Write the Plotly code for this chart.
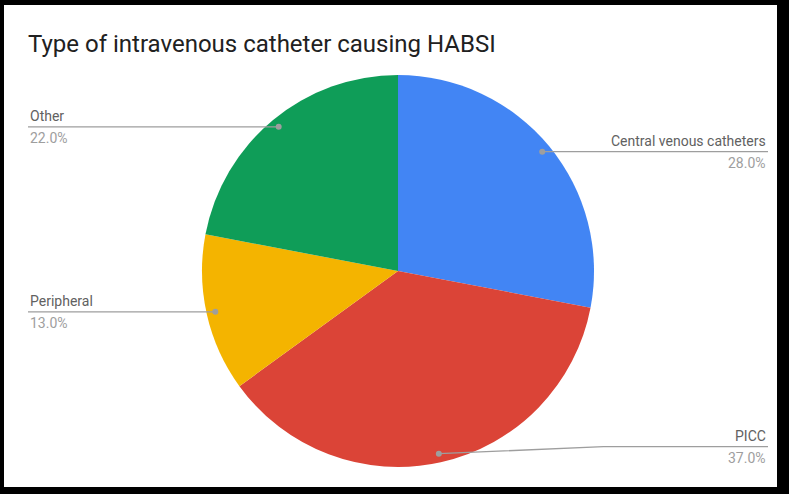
import math
import plotly.graph_objects as go

categories = ["Central venous catheters", "PICC", "Peripheral", "Other"]
values = [28.0, 37.0, 13.0, 22.0]
colors = ["#4285F4", "#DB4437", "#F4B400", "#0F9D58"]
title_text = "Type of intravenous catheter causing HABSI"

W, H = 789, 494
cx, cy, R = 398, 271, 196          # pie centre / radius in pixels
left_x, right_x = 28, 768           # label column edges
label_y_offsets = [0, -7, 0, 0]     # vertical shift of label line from dot

def px(x):
    return x / W

def py(y):
    return 1 - y / H

fig = go.Figure()
fig.add_trace(go.Pie(
    labels=categories, values=values, sort=False, direction="clockwise",
    rotation=0, marker=dict(colors=colors, line=dict(width=0)),
    textinfo="none", hoverinfo="label+percent", showlegend=False,
    domain=dict(x=[px(cx - R), px(cx + R)], y=[py(cy + R), py(cy - R)]),
))

shapes = [dict(type="rect", xref="paper", yref="paper", x0=px(4), x1=px(777),
               y0=py(487), y1=py(5), fillcolor="white", line=dict(width=0),
               layer="below")]
annotations = []
total = sum(values)
cum = 0.0
for name, v, off in zip(categories, values, label_y_offsets):
    mid = (cum + v / 2) / total * 2 * math.pi
    cum += v
    dx, dy = math.sin(mid), -math.cos(mid)
    dot_x, dot_y = cx + 0.955 * R * dx, cy + 0.955 * R * dy
    ly = dot_y + off
    right = dx > 0
    end_x = right_x if right else left_x
    if off != 0:
        kink_x = dot_x + (end_x - dot_x) * 0.5
        path = f"M {px(dot_x)} {py(dot_y)} L {px(kink_x)} {py(ly)} L {px(end_x)} {py(ly)}"
    else:
        path = f"M {px(dot_x)} {py(dot_y)} L {px(end_x)} {py(ly)}"
    shapes.append(dict(type="path", xref="paper", yref="paper", path=path,
                       line=dict(color="#9E9E9E", width=1.3)))
    r = 3
    shapes.append(dict(type="circle", xref="paper", yref="paper",
                       x0=px(dot_x - r), x1=px(dot_x + r),
                       y0=py(dot_y + r), y1=py(dot_y - r),
                       fillcolor="#9E9E9E", line=dict(width=0)))
    anchor = "right" if right else "left"
    annotations.append(dict(xref="paper", yref="paper", x=px(end_x), y=py(ly - 1),
                            xanchor=anchor, yanchor="bottom", showarrow=False,
                            text=name, font=dict(family="Roboto", size=14, color="#616161")))
    annotations.append(dict(xref="paper", yref="paper", x=px(end_x), y=py(ly + 1),
                            xanchor=anchor, yanchor="top", showarrow=False,
                            text=f"{v / total * 100:.1f}%",
                            font=dict(family="Roboto", size=14, color="#9E9E9E")))

annotations.append(dict(xref="paper", yref="paper", x=px(26), y=py(44),
                        xanchor="left", yanchor="middle", showarrow=False,
                        text=title_text,
                        font=dict(family="Roboto", size=24, color="#212121")))

fig.update_layout(
    width=W, height=H, margin=dict(l=0, r=0, t=0, b=0),
    paper_bgcolor="black", plot_bgcolor="white",
    shapes=shapes, annotations=annotations,
)
fig.write_html("out.html")
